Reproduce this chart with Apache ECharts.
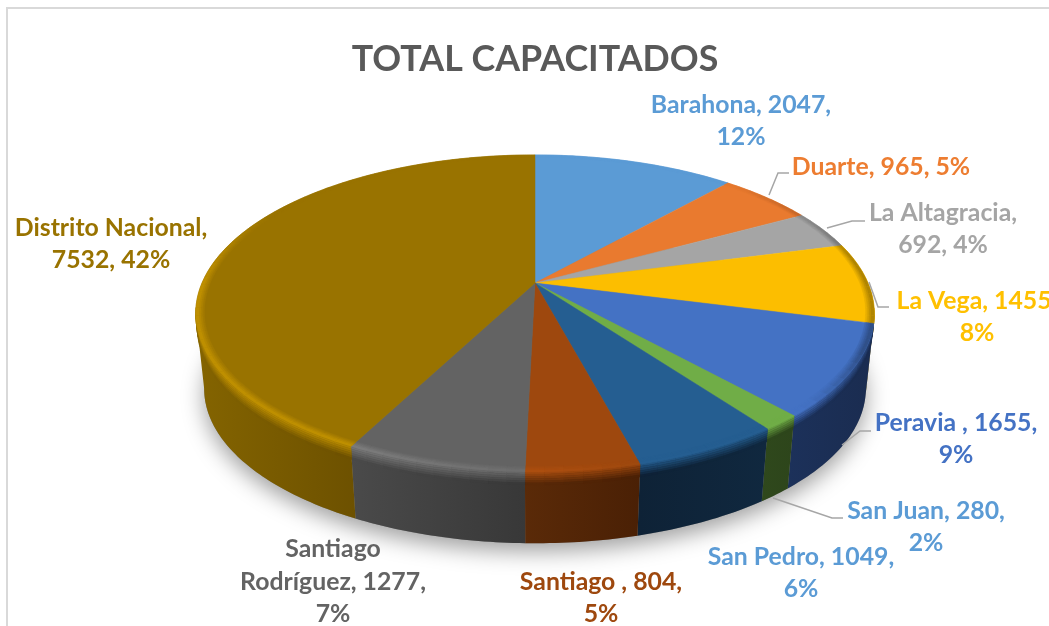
<!DOCTYPE html>
<html>
<head>
<meta charset="utf-8">
<title>TOTAL CAPACITADOS</title>
<style>
  html, body { margin: 0; padding: 0; background: #fff; overflow: hidden; }
  #chart { width: 1049px; height: 626px; }
</style>
<script src="https://cdn.jsdelivr.net/npm/echarts@6/dist/echarts.min.js"></script>
</head>
<body>
<div id="chart"></div>
<script>
// datos
const titleText = "TOTAL CAPACITADOS";
const names = ["Barahona", "Duarte", "La Altagracia", "La Vega", "Peravia ", "San Juan", "San Pedro", "Santiago ", "Santiago Rodríguez", "Distrito Nacional"];
const values = [2047, 965, 692, 1455, 1655, 280, 1049, 804, 1277, 7532];

// colores
const faceColors = ["#5b9bd5", "#e97a2f", "#a5a5a5", "#fcbe00", "#4472c4", "#70ad47", "#255e91", "#9e480e", "#636363", "#997300"];
const labelColors = ["#5b9bd5", "#ed7d31", "#a5a5a5", "#ffc000", "#4472c4", "#5b9bd5", "#5b9bd5", "#9e480e", "#636363", "#997300"];
const wallLeft = ["#2e5c80", "#8c4a1c", "#636363", "#7a5c00", "#1c315a", "#2f481c", "#0e2236", "#5a2a08", "#4a4a4a", "#846400"];
const wallRight = ["#2e5c80", "#8c4a1c", "#636363", "#5a4400", "#1a2c50", "#2d451b", "#10283f", "#4a2005", "#383838", "#6d5100"];

// donde van las etiquetas (puestas a mano en el original)
const labelCenters = [[741, 121], [881, 167], [943, 229], [977, 317], [956, 439], [926, 527], [801, 573], [601, 598], [333, 582], [111, 244]];
const labelBreaks = [
  (n, v, p) => n + ", " + v + ",\n" + p,
  (n, v, p) => n + ", " + v + ", " + p,
  (n, v, p) => n + ",\n" + v + ", " + p,
  (n, v, p) => n + ", " + v + ",\n" + p,
  (n, v, p) => n + ", " + v + ",\n" + p,
  (n, v, p) => n + ", " + v + ",\n" + p,
  (n, v, p) => n + ", " + v + ",\n" + p,
  (n, v, p) => n + ", " + v + ",\n" + p,
  (n, v, p) => "Santiago\nRodríguez, " + v + ",\n" + p,
  (n, v, p) => n + ",\n" + v + ", " + p
];
const leaderLines = [
  [[769, 195], [778, 173], [789, 173]],
  [[827, 228], [852, 221], [865, 221]],
  [[869, 282], [878, 307], [889, 307]],
  [[842, 445], [860, 431], [871, 431]],
  [[773, 498], [832, 518], [843, 518]]
];

// proyeccion del disco en perspectiva
const cx = 535, cy = 283;
const kx = 333, ky = 152.7, persp = 0.192;
const depth = 76, bottomScale = 0.975;

// tramo visible de la pared (entre las dos tangentes de la silueta)
const wallFrom = Math.acos(-persp);
const wallTo = Math.PI * 2 - wallFrom;

const total = values.reduce((a, b) => a + b, 0);
const starts = [];
let acc = 0;
values.forEach((v) => {
  starts.push((acc / total) * Math.PI * 2);
  acc += v;
});
const endOf = (i) => (i === values.length - 1 ? Math.PI * 2 : starts[i + 1]);

function project(t, r, f) {
  const u = r * Math.sin(t);
  const v = -r * Math.cos(t);
  const w = 1 - persp * v;
  const scale = 1 - f * (1 - bottomScale);
  return [cx + (kx * u / w) * scale, cy + f * depth + (ky * v / w) * scale];
}

function arc(a0, a1, r, f) {
  const n = Math.max(2, Math.ceil((a1 - a0) / 0.015));
  const pts = [];
  for (let i = 0; i <= n; i++) pts.push(project(a0 + ((a1 - a0) * i) / n, r, f));
  return pts;
}

function hex(c) {
  return [1, 3, 5].map((i) => parseInt(c.slice(i, i + 2), 16));
}
function mix(c1, c2, p) {
  const a = typeof c1 === "string" ? hex(c1) : c1;
  const b = typeof c2 === "string" ? hex(c2) : c2;
  return a.map((x, i) => x + (b[i] - x) * p);
}
const css = (c) => "rgb(" + c.map(Math.round).join(",") + ")";

function ramp(x, a, b) {
  return Math.min(1, Math.max(0, (x - a) / (b - a)));
}

// brillo del bisel: claro a la izquierda y al frente, oscuro a la derecha
function edgeColor(i, t) {
  const deg = (t * 180) / Math.PI;
  const light = ramp(deg, 165, 205) * (1 - ramp(deg, 270, 300)) * 0.24;
  const dark = ramp(deg, 40, 80) * (1 - ramp(deg, 115, 135)) * 0.3;
  let c = hex(faceColors[i]);
  if (light > 0) c = c.map((x) => Math.min(255, x * (1 + light)));
  if (dark > 0) c = mix(c, "#000000", dark);
  return c;
}

function wallColor(i, t) {
  const a0 = Math.max(starts[i], wallFrom), a1 = Math.max(a0 + 0.001, Math.min(endOf(i), wallTo));
  const xs = arc(a0, a1, 1, 0.5).map((p) => p[0]);
  const xmin = Math.min.apply(null, xs), xmax = Math.max.apply(null, xs);
  return mix(wallLeft[i], wallRight[i], ramp(project(t, 1, 0.5)[0], xmin, xmax));
}

function eachSegment(i, fn) {
  const a0 = starts[i], a1 = endOf(i);
  const n = Math.max(1, Math.ceil((a1 - a0) / 0.05));
  for (let s = 0; s < n; s++) {
    const t0 = a0 + ((a1 - a0) * s) / n;
    const t1 = a0 + ((a1 - a0) * (s + 1)) / n;
    fn(t0, t1, (t0 + t1) / 2);
  }
}

// pared lateral de cada porcion, con su degradado
function wallGroup(i) {
  const children = [];
  const a0 = Math.max(starts[i], wallFrom), a1 = Math.min(endOf(i), wallTo);
  if (a1 <= a0) return { type: "group", children: children };
  const body = arc(a0, a1, 1, 0).concat(arc(a0, a1, 1, 1).reverse());
  children.push({
    type: "polygon",
    shape: { points: body },
    style: {
      fill: new echarts.graphic.LinearGradient(0, 0, 1, 0, [
        { offset: 0, color: wallLeft[i] },
        { offset: 1, color: wallRight[i] }
      ])
    }
  });
  // transicion bajo el borde superior
  const fs = [0, 0.03, 0.06, 0.09, 0.12, 0.15, 0.18];
  eachSegment(i, (t0, t1, tm) => {
    if (t1 <= wallFrom || t0 >= wallTo) return;
    const edge = edgeColor(i, tm);
    const wall = wallColor(i, tm);
    for (let b = 0; b < fs.length - 1; b++) {
      const c = css(mix(edge, wall, (b + 1) / (fs.length - 1)));
      const pts = arc(t0, t1, 1, fs[b]).concat(arc(t0, t1, 1, fs[b + 1]).reverse());
      children.push({ type: "polygon", shape: { points: pts }, style: { fill: c, stroke: c, lineWidth: 0.4 } });
    }
  });
  return { type: "group", children: children };
}

// anillo del bisel dentro de la cara superior
function rimGroup(i) {
  const children = [];
  const rs = [0.975, 0.98, 0.985, 0.99, 1];
  const face = hex(faceColors[i]);
  eachSegment(i, (t0, t1, tm) => {
    const edge = edgeColor(i, tm);
    for (let b = 0; b < rs.length - 1; b++) {
      const c = css(mix(face, edge, (b + 1) / (rs.length - 1)));
      const pts = arc(t0, t1, rs[b], 0).concat(arc(t0, t1, rs[b + 1], 0).reverse());
      children.push({ type: "polygon", shape: { points: pts }, style: { fill: c, stroke: c, lineWidth: 0.4 } });
    }
  });
  return { type: "group", children: children };
}

function labelText(i) {
  const pct = Math.round((values[i] / total) * 100) + "%";
  return labelBreaks[i](names[i], values[i], pct);
}

const option = {
  animation: false,
  backgroundColor: "#fff",
  title: {
    text: titleText,
    left: 530,
    top: 36,
    textAlign: "center",
    textStyle: { color: "#595959", fontSize: 35.8, fontWeight: "bold", fontFamily: "Lato" }
  },
  graphic: [
    { type: "rect", silent: true, z: 0, shape: { x: 7, y: 8, width: 1200, height: 800 }, style: { fill: "none", stroke: "#d9d9d9", lineWidth: 2 } }
  ],
  series: [
    {
      // sombra bajo el disco
      type: "custom",
      coordinateSystem: "none",
      silent: true,
      z: 1,
      data: [0],
      renderItem: () => ({
        type: "polygon",
        shape: { points: arc(0, Math.PI * 2, 1, 1) },
        style: { fill: "#888", shadowColor: "rgba(0,0,0,0.38)", shadowBlur: 22, shadowOffsetY: 8 }
      })
    },
    {
      type: "custom",
      coordinateSystem: "none",
      silent: true,
      z: 2,
      data: values,
      renderItem: (params) => wallGroup(params.dataIndex)
    },
    {
      type: "custom",
      coordinateSystem: "none",
      silent: true,
      z: 3,
      data: values,
      renderItem: (params) => {
        const i = params.dataIndex;
        const pts = [[cx, cy]].concat(arc(starts[i], endOf(i), 1, 0));
        return { type: "polygon", shape: { points: pts }, style: { fill: faceColors[i], stroke: faceColors[i], lineWidth: 0.5 } };
      }
    },
    {
      type: "custom",
      coordinateSystem: "none",
      silent: true,
      z: 4,
      data: values,
      renderItem: (params) => rimGroup(params.dataIndex)
    },
    {
      type: "custom",
      coordinateSystem: "none",
      silent: true,
      z: 5,
      data: leaderLines.map((l, i) => i),
      renderItem: (params) => ({
        type: "polyline",
        shape: { points: leaderLines[params.dataIndex] },
        style: { fill: null, stroke: "#a6a6a6", lineWidth: 1.5 }
      })
    },
    {
      type: "custom",
      coordinateSystem: "none",
      silent: true,
      z: 6,
      data: values,
      renderItem: (params) => {
        const i = params.dataIndex;
        return {
          type: "text",
          style: {
            text: labelText(i),
            x: labelCenters[i][0],
            y: labelCenters[i][1],
            fill: labelColors[i],
            font: "bold 24.8px Lato",
            align: "center",
            verticalAlign: "middle",
            lineHeight: 32.5
          }
        };
      }
    }
  ]
};

const chart = echarts.init(document.getElementById("chart"), null, { renderer: "canvas" });
chart.setOption(option);
</script>
</body>
</html>
